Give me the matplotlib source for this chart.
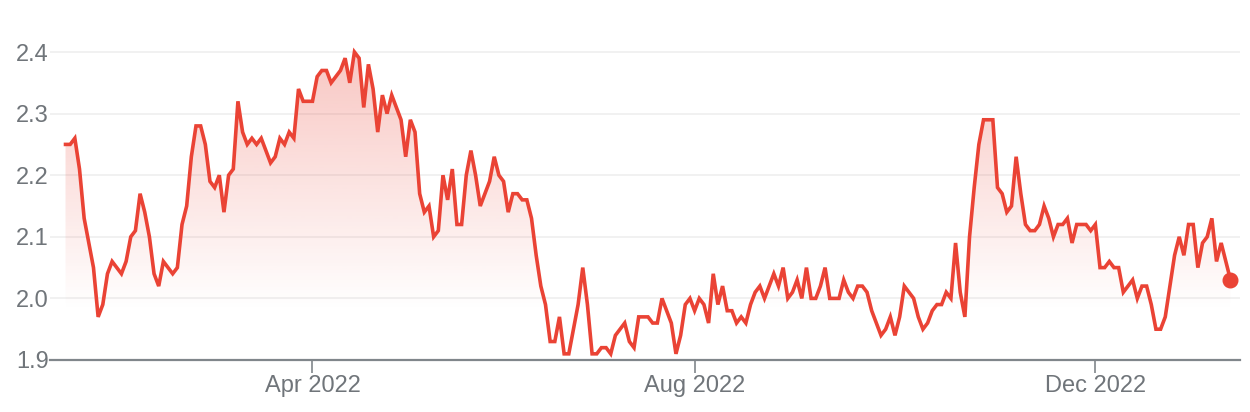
import numpy as np
import pandas as pd
import matplotlib
matplotlib.use('Agg')
import matplotlib.pyplot as plt
from matplotlib.patches import Polygon

# trading days, Jan 14 2022 .. Jan 13 2023
holidays = ['2022-01-17', '2022-02-21', '2022-04-15', '2022-05-30', '2022-06-20',
            '2022-07-04', '2022-09-05', '2022-11-24', '2022-12-26', '2023-01-02']
dates = pd.bdate_range('2022-01-14', '2023-01-13', freq='C', holidays=holidays)

values = [
    2.25, 2.25, 2.26, 2.21, 2.13, 2.09, 2.05, 1.97, 1.99, 2.04, 2.06, 2.05, 2.04, 2.06, 2.10, 2.11,
    2.17, 2.14, 2.10, 2.04, 2.02, 2.06, 2.05, 2.04, 2.05, 2.12, 2.15, 2.23, 2.28, 2.28, 2.25, 2.19, 2.18,
    2.20, 2.14, 2.20, 2.21, 2.32, 2.27, 2.25, 2.26, 2.25, 2.26, 2.24, 2.22, 2.23, 2.26, 2.25, 2.27,
    2.26, 2.34, 2.32, 2.32, 2.32, 2.36, 2.37, 2.37, 2.35, 2.36, 2.37, 2.39, 2.35, 2.40, 2.39, 2.31,
    2.38, 2.34, 2.27, 2.33, 2.30, 2.33, 2.31, 2.29, 2.23, 2.29, 2.27, 2.17, 2.14, 2.15, 2.10, 2.11,
    2.20, 2.16, 2.21, 2.12, 2.12, 2.20, 2.24, 2.20, 2.15, 2.17, 2.19, 2.23, 2.20, 2.19, 2.14, 2.17, 2.17,
    2.16, 2.16, 2.13, 2.07, 2.02, 1.99, 1.93, 1.93, 1.97, 1.91, 1.91, 1.95, 1.99, 2.05, 1.99, 1.91,
    1.91, 1.92, 1.92, 1.91, 1.94, 1.95, 1.96, 1.93, 1.92, 1.97, 1.97, 1.97, 1.96, 1.96, 2.00,
    1.98, 1.96, 1.91, 1.94, 1.99, 2.00, 1.98, 2.00, 1.99, 1.96, 2.04, 1.99, 2.02, 1.98, 1.98, 1.96,
    1.97, 1.96, 1.99, 2.01, 2.02, 2.00, 2.02, 2.04, 2.02, 2.05, 2.00, 2.01, 2.03, 2.00, 2.05, 2.00, 2.00, 2.02,
    2.05, 2.00, 2.00, 2.00, 2.03, 2.01, 2.00, 2.02, 2.02, 2.01, 1.98, 1.96, 1.94, 1.95, 1.97, 1.94,
    1.97, 2.02, 2.01, 2.00, 1.97, 1.95, 1.96, 1.98, 1.99, 1.99, 2.01, 2.00, 2.09, 2.01, 1.97,
    2.10, 2.18, 2.25, 2.29, 2.29, 2.29, 2.18, 2.17, 2.14, 2.15, 2.23, 2.17, 2.12, 2.11, 2.11, 2.12,
    2.15, 2.13, 2.10, 2.12, 2.12, 2.13, 2.09, 2.12, 2.12, 2.12, 2.11, 2.12, 2.05, 2.05, 2.06, 2.05,
    2.05, 2.01, 2.02, 2.03, 2.00, 2.02, 2.02, 1.99, 1.95, 1.95, 1.97, 2.02, 2.07, 2.10, 2.07, 2.12,
    2.12, 2.05, 2.09, 2.10, 2.13, 2.06, 2.09, 2.06, 2.03,
]
tick_months = ['2022-04-01', '2022-08-01', '2022-12-01']
y_ticks = [1.9, 2.0, 2.1, 2.2, 2.3, 2.4]

red = '#ea4335'
grey = '#70757a'
plt.rcParams['font.family'] = ['Liberation Sans', 'DejaVu Sans']

n = min(len(dates), len(values))
x = np.arange(n)
v = np.array(values[:n])

fig = plt.figure(figsize=(12.5, 4.12), dpi=100)
ax = fig.add_axes([50 / 1250, 1 - 360 / 412, 1190 / 1250, 320.3 / 412])
ymin, ymax = 1.9, 2.42
xmin, xmax = -3.33, 252.04

# gradient fill under the line
gy = np.linspace(ymin, ymax, 256)
img = np.zeros((256, 1, 4))
img[..., :3] = matplotlib.colors.to_rgb(red)
img[..., 3] = (np.clip((gy - 1.98) / 0.42, 0, 1) * 0.3)[:, None]
im = ax.imshow(img, extent=[xmin, xmax, ymin, ymax], origin='lower',
               aspect='auto', interpolation='bilinear', zorder=1)
poly = Polygon(np.column_stack([np.r_[x[0], x, x[-1]], np.r_[ymin, v, ymin]]),
               closed=True, facecolor='none', edgecolor='none')
ax.add_patch(poly)
im.set_clip_path(poly)

ax.plot(x, v, color=red, lw=2.6, zorder=3, solid_joinstyle='miter', clip_on=False)
ax.plot(x[-1], v[-1], 'o', ms=10.5, color=red, zorder=4, clip_on=False)

ax.set_xlim(xmin, xmax)
ax.set_ylim(ymin, ymax)

ticks = [dates.searchsorted(pd.Timestamp(m)) for m in tick_months]
ax.set_xticks(ticks)
ax.set_xticklabels([pd.Timestamp(m).strftime('%b %Y') for m in tick_months])
ax.set_yticks(y_ticks)
ax.set_yticklabels(['%.1f' % t for t in y_ticks])

ax.yaxis.grid(True, color='#f1f1f1', lw=1.4, zorder=0)
ax.set_axisbelow(True)
for s in ['top', 'right', 'left']:
    ax.spines[s].set_visible(False)
ax.spines['bottom'].set_color('#80868b')
ax.spines['bottom'].set_linewidth(1.6)
ax.spines['bottom'].set_zorder(5)

ax.tick_params(axis='x', length=9, width=1.2, color='#80868b', labelcolor=grey,
               labelsize=17, pad=2)
ax.tick_params(axis='y', length=0, labelcolor=grey, labelsize=17, pad=1)

fig.savefig('out.png', dpi=100)
